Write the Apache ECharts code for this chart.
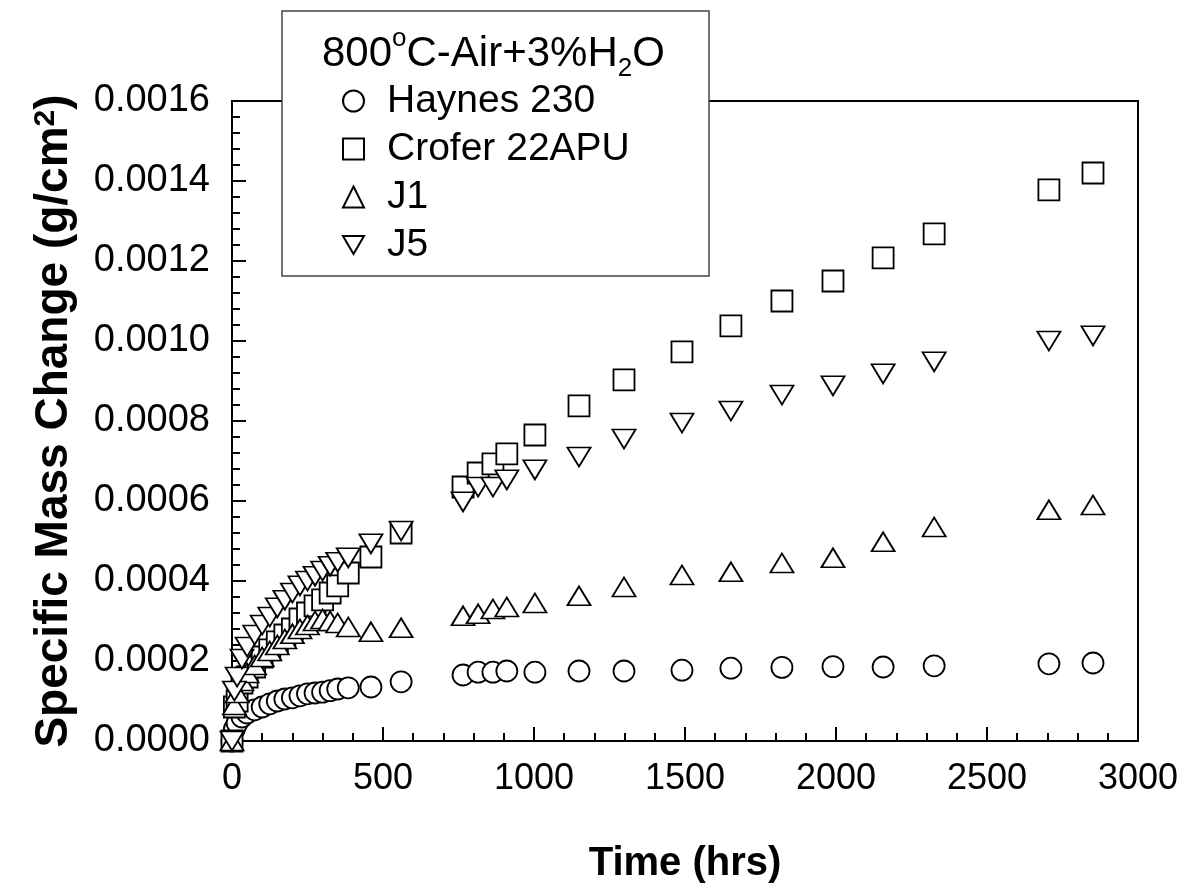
<!DOCTYPE html>
<html>
<head>
<meta charset="utf-8">
<script src="https://cdn.jsdelivr.net/npm/echarts@6/dist/echarts.min.js"></script>
<style>
  html, body { margin: 0; padding: 0; background: #fff; }
  #chart { width: 1189px; height: 893px; }
</style>
</head>
<body>
<div id="chart"></div>
<script>
// exposure time (hrs), shared by all four alloys
const times = [0, 8, 17, 33, 50, 75, 100, 125, 150, 175, 200, 225, 250, 275, 300, 325, 350, 385, 460, 560,
  765, 815, 864, 910, 1003, 1149, 1298, 1490, 1652, 1821, 1990, 2156, 2325, 2705, 2851];

// specific mass change (g/cm2)
const haynes230 = [0, 0.00003, 0.000045, 0.00006, 0.00007, 0.000078, 0.000085, 0.000093, 0.0001, 0.000105,
  0.000108, 0.000113, 0.000118, 0.00012, 0.000122, 0.000126, 0.00013, 0.000133, 0.000135, 0.000148,
  0.000165, 0.000172, 0.000172, 0.000175, 0.000172, 0.000175, 0.000175, 0.000177, 0.000182, 0.000184,
  0.000186, 0.000185, 0.000188, 0.000193, 0.000195];
const crofer22APU = [0, 0.000085, 0.0001, 0.000145, 0.00016, 0.000185, 0.00021, 0.000228, 0.000248, 0.000265,
  0.00028, 0.000305, 0.00032, 0.000338, 0.000353, 0.00037, 0.000388, 0.00042, 0.00046, 0.00052,
  0.000635, 0.00067, 0.000693, 0.000718, 0.000765, 0.000838, 0.000903, 0.000973, 0.001038, 0.0011,
  0.00115, 0.001208, 0.001268, 0.001378, 0.00142];
const j1 = [0, 0.00009, 0.00012, 0.00015, 0.00017, 0.00019, 0.00021, 0.000225, 0.00024, 0.000255,
  0.000268, 0.00028, 0.00029, 0.0003, 0.000305, 0.0003, 0.000295, 0.000285, 0.000273, 0.000283,
  0.000313, 0.000318, 0.00033, 0.000335, 0.000345, 0.000363, 0.000385, 0.000415, 0.000423, 0.000445,
  0.000458, 0.000498, 0.000535, 0.000578, 0.00059];
const j5 = [0, 0.000125, 0.00016, 0.000205, 0.000235, 0.000265, 0.00029, 0.00031, 0.000333, 0.000352,
  0.00037, 0.000388, 0.0004, 0.000412, 0.000425, 0.000437, 0.000447, 0.000458, 0.000493, 0.000525,
  0.000598, 0.000635, 0.000635, 0.000653, 0.000678, 0.00071, 0.000755, 0.000795, 0.000825, 0.000865,
  0.000888, 0.000918, 0.000948, 0.001, 0.001013];

const seriesNames = ['Haynes 230', 'Crofer 22APU', 'J1', 'J5'];
const xTicks = [0, 3000, 500];
const yTicks = [0, 0.0016, 0.0002];

const FONT = "Arial, 'Liberation Sans', sans-serif";
const downTri = 'path://M0,0L20,0L10,17Z';

const pairs = ys => times.map((t, i) => [t, ys[i]]);

const mk = (name, ys, symbol, size) => ({
  name: name,
  type: 'scatter',
  data: pairs(ys),
  symbol: symbol,
  symbolSize: size,
  itemStyle: { color: '#fff', borderColor: '#000', borderWidth: 1.8, opacity: 1 },
  emphasis: { disabled: true }
});

const chart = echarts.init(document.getElementById('chart'));
chart.setOption({
  animation: false,
  backgroundColor: '#fff',
  grid: {
    left: 232, right: 51, top: 101, bottom: 152,
    show: true, borderColor: '#000', borderWidth: 2
  },
  xAxis: {
    type: 'value',
    min: xTicks[0], max: xTicks[1], interval: xTicks[2],
    name: 'Time (hrs)',
    nameLocation: 'middle',
    nameGap: 103,
    nameTextStyle: { fontFamily: FONT, fontWeight: 'bold', fontSize: 40, color: '#000' },
    axisLine: { lineStyle: { color: '#000', width: 2 } },
    axisTick: { inside: true, length: 14, lineStyle: { color: '#000', width: 2 } },
    minorTick: { show: true, splitNumber: 5, length: 8, lineStyle: { color: '#000', width: 2 } },
    splitLine: { show: false },
    axisLabel: { fontFamily: FONT, fontSize: 36, color: '#000', margin: 20, formatter: v => String(v) }
  },
  yAxis: {
    type: 'value',
    min: yTicks[0], max: yTicks[1], interval: yTicks[2],
    name: 'Specific Mass Change (g/cm{sup|2})',
    nameLocation: 'middle',
    nameGap: 155,
    nameTextStyle: {
      fontFamily: FONT, fontWeight: 'bold', fontSize: 46, color: '#000',
      rich: { sup: { fontFamily: FONT, fontWeight: 'bold', fontSize: 30, verticalAlign: 'top', color: '#000' } }
    },
    axisLine: { lineStyle: { color: '#000', width: 2 } },
    axisTick: { inside: true, length: 14, lineStyle: { color: '#000', width: 2 } },
    minorTick: { show: true, splitNumber: 5, length: 8, lineStyle: { color: '#000', width: 2 } },
    splitLine: { show: false },
    axisLabel: { fontFamily: FONT, fontSize: 38, color: '#000', margin: 22, formatter: v => v.toFixed(4) }
  },
  legend: {
    data: seriesNames,
    orient: 'vertical',
    left: 337, top: 76,
    itemWidth: 21, itemHeight: 21,
    itemGap: 8,
    z: 20,
    selectedMode: false,
    textStyle: { fontFamily: FONT, fontSize: 39, color: '#000', lineHeight: 40, padding: [0, 0, 0, 18] }
  },
  graphic: [
    {
      type: 'rect', z: 15,
      shape: { x: 282, y: 11, width: 427, height: 265 },
      style: { fill: '#fff', stroke: '#444', lineWidth: 1.5 }
    },
    {
      type: 'text', z: 20,
      left: 322, top: 26,
      style: {
        text: '800{sup|o}C-Air+3%H{sub|2}O',
        font: '42px ' + FONT,
        fill: '#000',
        rich: {
          sup: { fontSize: 26, fontFamily: FONT, verticalAlign: 'top', fill: '#000', lineHeight: 56 },
          sub: { fontSize: 26, fontFamily: FONT, verticalAlign: 'bottom', fill: '#000', lineHeight: 56 }
        }
      }
    }
  ],
  series: [
    mk(seriesNames[0], haynes230, 'circle', 21),
    mk(seriesNames[1], crofer22APU, 'rect', 21),
    mk(seriesNames[2], j1, 'triangle', [23, 19]),
    mk(seriesNames[3], j5, downTri, [23, 19])
  ]
});
window.addEventListener('resize', function () {
  chart.resize();
});
</script>
</body>
</html>
